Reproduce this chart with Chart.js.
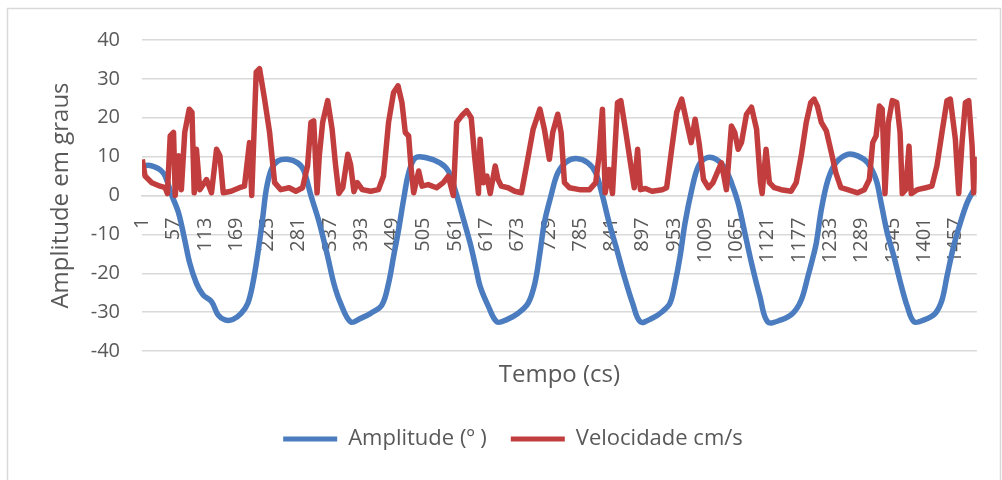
<!DOCTYPE html>
<html>
<head>
<meta charset="utf-8">
<title>Amplitude e Velocidade</title>
<script src="https://cdn.jsdelivr.net/npm/chart.js"></script>
<style>
    body { margin: 0; background: #fff; }
    #wrap { position: relative; width: 1002px; height: 480px; }
</style>
</head>
<body>
<div id="wrap"><canvas id="amplitudeChart" width="1002" height="480"></canvas></div>
<script>
// Amplitude (º) - tempo em cs
const tempoAmplitude = [1, 12, 24, 34, 42, 54, 66, 77, 86, 98, 110, 125, 137, 149, 163, 178, 190, 199, 208, 217, 223, 232, 244, 261, 279, 290,
    303, 318, 333, 344, 356, 374, 392, 410, 430, 442, 451, 460, 469, 478, 490, 510, 534, 549, 561, 573, 588, 599,
    606, 621, 636, 653, 674, 692, 704, 713, 721, 733, 745, 760, 778, 799, 813, 825, 837, 849, 864, 879, 893,
    914, 932, 946, 955, 964, 973, 985, 997, 1012, 1029, 1044, 1056, 1068, 1080, 1092, 1107, 1121, 1145, 1166, 1181, 1193, 1200,
    1208, 1217, 1229, 1243, 1264, 1282, 1300, 1315, 1324, 1335, 1347, 1359, 1371, 1383, 1401, 1421, 1433, 1442, 1454, 1466, 1478, 1490];
const amplitude = [7.5, 7.8, 7.3, 6.5, 5, 0, -4.5, -11.4, -17.4, -22.6, -25.6, -27.3, -30.8, -32, -31.9, -30.3, -27.7, -22.6, -14.8, -5.3, 1.5, 6.7, 8.9, 9.3, 8.4, 6.5,
    0, -7, -15.7, -22.6, -27.7, -32.5, -31.6, -30.3, -28.2, -22.6, -15.7, -8.8, -1, 5.8, 9.7, 9.7, 8.4, 6.3, 1.5, -4.5, -12.2, -19,
    -23.4, -28.6, -32.5, -32, -30.3, -27.7, -22.6, -14.8, -7, 0, 5.8, 8.6, 9.5, 8.4, 5.8, 0, -7, -13, -20.8, -27.7, -32.5,
    -31.6, -29.9, -27.7, -22.6, -15.7, -7, 1.5, 7.6, 9.7, 9.3, 7.1, 3.3, -1.9, -9.6, -17.4, -26, -32.5, -32, -30.3, -26.9, -20.8, -17,
    -12.2, -3.6, 4.1, 8.4, 10.6, 10.2, 8.4, 4.1, -1.9, -9.6, -15.7, -22.6, -28.6, -32.5, -32, -30.3, -26.9, -20.8, -13, -7, -1.9, 1.5];

// Velocidade cm/s - tempo em cs
const tempoVelocidade = [1, 6, 18, 33, 42, 46, 51, 57, 60, 66, 71, 77, 85, 90, 94, 98, 104, 116, 125, 134, 140, 146, 160, 175, 184, 193, 197,
    205, 211, 220, 229, 235, 238, 249, 264, 276, 288, 297, 303, 308, 314, 318, 324, 333, 341, 347, 353, 360, 369, 374, 380, 386, 395,
    410, 424, 433, 442, 451, 459, 466, 472, 478, 482, 487, 496, 502, 513, 528, 540, 549, 558, 564, 573, 582, 590, 596, 603, 606, 612,
    618, 624, 633, 638, 644, 656, 668, 680, 689, 701, 713, 721, 730, 736, 745, 751, 757, 766, 784, 802, 813, 819, 825, 830, 837, 843,
    852, 858, 867, 876, 882, 888, 893, 902, 914, 932, 940, 949, 958, 967, 976, 984, 991, 998, 1006, 1015, 1023, 1038, 1047, 1056, 1062,
    1068, 1074, 1083, 1092, 1101, 1108, 1111, 1118, 1124, 1133, 1145, 1163, 1172, 1181, 1190, 1198, 1204, 1210, 1217, 1226, 1235, 1243,
    1252, 1264, 1282, 1294, 1303, 1309, 1315, 1321, 1326, 1331, 1337, 1344, 1352, 1358, 1362, 1368, 1374, 1378, 1389, 1404, 1415, 1424,
    1433, 1442, 1448, 1457, 1463, 1469, 1475, 1481, 1487, 1490, 1492];
const velocidade = [9.3, 5, 3.3, 2.4, 2, 0.5, 15.3, 16.2, 0, 10.2, 1.5, 16.2, 22.2, 21.4, 0.7, 11.9, 1.5, 4.1, 0.7, 11.9, 10.2, 0.7, 1.1, 2, 2.4, 13.6, 0,
    31.7, 32.6, 24.8, 16.2, 7.6, 3.3, 1.5, 2, 1.1, 2, 7.6, 18.8, 19.2, 0.7, 10.2, 18.8, 24.4, 17, 8, 0.5, 2, 10.6, 8, 1, 3.3, 1.5,
    1.1, 1.5, 5, 18.8, 26.5, 28.2, 23.9, 16.2, 15.3, 7.6, 0.7, 6.3, 2.4, 2.8, 2, 3.3, 5, 0, 18.8, 20.5, 21.8, 20, 10.2, 0.5, 14.5, 3.3,
    5, 0.5, 7.6, 4.1, 2.4, 2, 1.1, 0.7, 7.6, 17.1, 22.2, 17.1, 9.3, 16.2, 20.9, 16.2, 3.3, 2, 1.5, 1.5, 3.3, 10.2, 22.2, 0.7, 6.7, 0.5,
    23.9, 24.4, 16.2, 7.6, 2, 11.9, 1.5, 1.8, 1.1, 1.5, 2, 11.9, 21.4, 24.8, 18.8, 13.6, 19.6, 13.6, 4.1, 2, 3.3, 8.4, 1.5, 17.9, 16.2,
    11.9, 13.6, 20.9, 22.7, 17.1, 3.3, 0.5, 11.9, 3.3, 2, 1.5, 1.1, 3.3, 10.2, 18.8, 23.9, 24.8, 23, 18.8, 16.6, 11, 5.8,
    2, 1.5, 0.7, 1.5, 4.1, 13.6, 15.3, 23, 22.2, 0.5, 18.8, 24.4, 23.9, 16.2, 0.5, 1.5, 12.7, 0.5, 1.5, 2, 2.4, 7.6,
    16.2, 24.4, 24.8, 14.5, 0.5, 13.6, 23.9, 24.4, 12.7, 0.7, 10];

// rótulos dos eixos
const tempoTicks = [1, 57, 113, 169, 225, 281, 337, 393, 449, 505, 561, 617, 673, 729, 785, 841, 897, 953, 1009, 1065, 1121, 1177, 1233, 1289, 1345, 1401, 1457];
const amplitudeTicks = [-40, -30, -20, -10, 0, 10, 20, 30, 40];

document.addEventListener('DOMContentLoaded', () => {
    const textColor = '#595959';
    const gridColor = '#d9d9d9';
    const fontFamily = '"Open Sans", "Liberation Sans", sans-serif';

    // moldura cinza à volta do gráfico
    const framePlugin = {
        id: 'frame',
        beforeDraw(chart) {
            const ctx = chart.ctx;
            ctx.save();
            ctx.fillStyle = '#fff';
            ctx.fillRect(0, 0, chart.width, chart.height);
            ctx.strokeStyle = '#d9d9d9';
            ctx.lineWidth = 1.5;
            ctx.strokeRect(7.5, 8.5, 993, 480);
            ctx.restore();
        }
    };

    const ctx = document.getElementById('amplitudeChart').getContext('2d');
    const amplitudeChart = new Chart(ctx, {
        type: 'line',
        data: {
            datasets: [{
                    label: 'Amplitude (º )',
                    data: tempoAmplitude.map((t, i) => ({ x: t, y: amplitude[i] })),
                    borderColor: '#4a7cbf',
                    backgroundColor: '#4a7cbf',
                    borderWidth: 5.5,
                    pointRadius: 0,
                    tension: 0.35,
                    borderJoinStyle: 'round',
                    order: 2
                },
                {
                    label: 'Velocidade cm/s',
                    data: tempoVelocidade.map((t, i) => ({ x: t, y: velocidade[i] })),
                    borderColor: '#c23e3e',
                    backgroundColor: '#c23e3e',
                    borderWidth: 5.5,
                    pointRadius: 0,
                    tension: 0,
                    borderJoinStyle: 'round',
                    order: 1
                }
            ]
        },
        options: {
            responsive: false,
            animation: false,
            devicePixelRatio: 1,
            layout: { padding: { left: 44, right: 20, top: 40, bottom: 20 } },
            scales: {
                x: {
                    type: 'linear',
                    axis: 'x',
                    position: { y: 0 },
                    min: 0.5,
                    max: 1495.5,
                    afterBuildTicks: scale => { scale.ticks = tempoTicks.map(v => ({ value: v })); },
                    grid: { display: false, drawTicks: false },
                    border: { display: true, color: gridColor, width: 1.5 },
                    ticks: {
                        autoSkip: false,
                        minRotation: 90,
                        maxRotation: 90,
                        padding: 22,
                        color: textColor,
                        font: { family: fontFamily, size: 20 },
                        callback: v => String(v)
                    }
                },
                x2: {
                    type: 'linear',
                    axis: 'x',
                    position: 'bottom',
                    display: true,
                    min: 0,
                    max: 1,
                    afterFit: scale => { scale.height = 53; },
                    grid: { display: false },
                    border: { display: false },
                    ticks: { display: false },
                    title: {
                        display: true,
                        text: 'Tempo (cs)',
                        color: textColor,
                        font: { family: fontFamily, size: 24 },
                        padding: { top: 0, bottom: 14 }
                    }
                },
                y: {
                    min: -40,
                    max: 40,
                    afterBuildTicks: scale => { scale.ticks = amplitudeTicks.map(v => ({ value: v })); },
                    afterFit: scale => { scale.width = 98; },
                    grid: { color: gridColor, lineWidth: 1.5, drawTicks: false },
                    border: { display: false },
                    ticks: {
                        padding: 22,
                        color: textColor,
                        font: { family: fontFamily, size: 20 }
                    },
                    title: {
                        display: true,
                        text: 'Amplitude em graus',
                        color: textColor,
                        font: { family: fontFamily, size: 24 },
                        padding: { top: 3, bottom: 0 }
                    }
                }
            },
            plugins: {
                legend: {
                    position: 'bottom',
                    labels: {
                        boxWidth: 54,
                        boxHeight: 5,
                        padding: 24,
                        color: textColor,
                        font: { family: fontFamily, size: 22 },
                        sort: (a, b) => a.datasetIndex - b.datasetIndex,
                        generateLabels: chart => Chart.defaults.plugins.legend.labels.generateLabels(chart)
                            .map(l => ({ ...l, lineWidth: 0, fillStyle: l.strokeStyle }))
                    }
                },
                tooltip: { enabled: false }
            }
        },
        plugins: [framePlugin]
    });
});
</script>
</body>
</html>
